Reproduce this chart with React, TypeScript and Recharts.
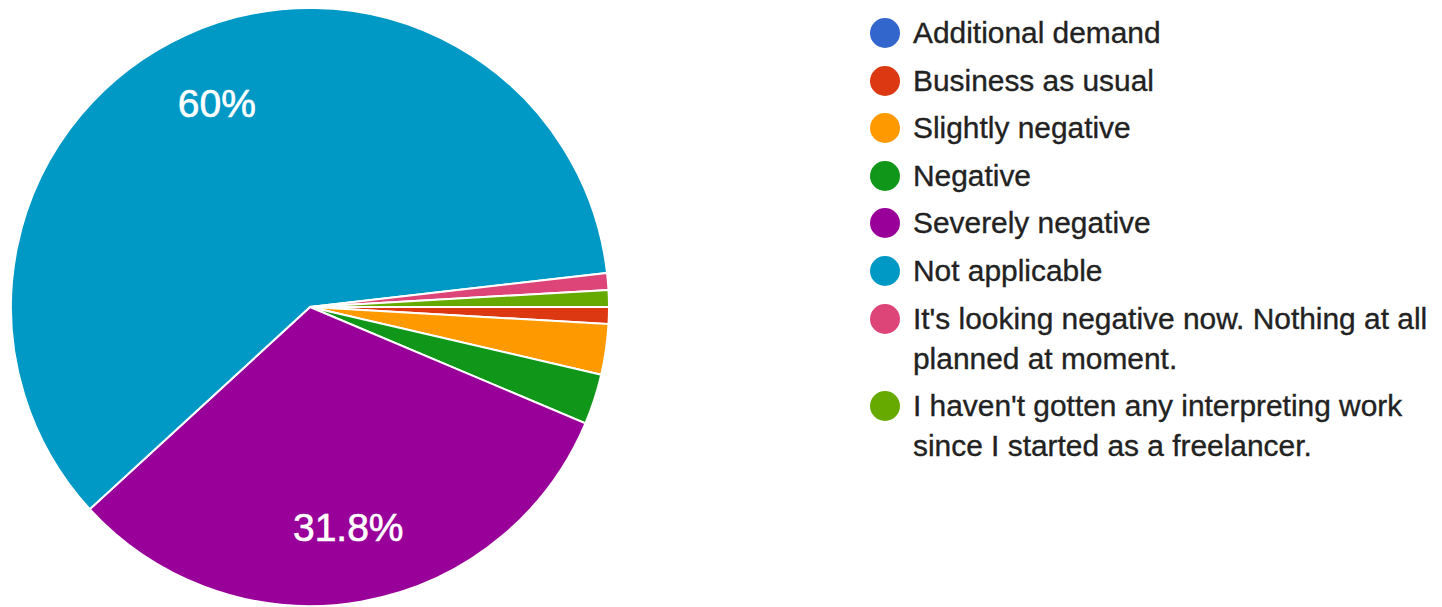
import { PieChart, Pie, Cell, Legend } from 'recharts';

// survey answers, in legend order
const categories = [
  'Additional demand',
  'Business as usual',
  'Slightly negative',
  'Negative',
  'Severely negative',
  'Not applicable',
  "It's looking negative now. Nothing at all planned at moment.",
  "I haven't gotten any interpreting work since I started as a freelancer.",
];
const responses = [0, 1, 3, 3, 35, 66, 1, 1];
const colors = ['#3366cc', '#dc3912', '#ff9900', '#109618', '#990099', '#0099c6', '#dd4477', '#66aa00'];

const chartData = categories.map((name, i) => ({ name, value: responses[i] }));

const FONT = '"Liberation Sans", Arial, sans-serif';
const RADIAN = Math.PI / 180;

// percent labels only on the big slices, like Google Forms
const renderLabel = ({ cx, cy, midAngle, outerRadius, percent }: any) => {
  if (percent < 0.05) return null;
  const r = outerRadius * 0.75;
  const x = cx + r * Math.cos(-midAngle * RADIAN);
  const y = cy + r * Math.sin(-midAngle * RADIAN);
  const txt = `${parseFloat((percent * 100).toFixed(1))}%`;
  return (
    <text
      x={x}
      y={y}
      fill="#fff"
      stroke="#fff"
      strokeWidth={0.6}
      textAnchor="middle"
      dominantBaseline="central"
      fontSize={39}
      fontFamily={FONT}
    >
      {txt}
    </text>
  );
};

const LegendList = () => (
  <div style={{ fontFamily: FONT, fontSize: 29.9, color: '#222', WebkitTextStroke: '0.35px #222' }}>
    {categories.map((name, i) => (
      <div key={name} style={{ display: 'flex', alignItems: 'flex-start', marginBottom: 7.6 }}>
        <span
          style={{
            width: 30,
            height: 30,
            borderRadius: '50%',
            background: colors[i],
            marginTop: 5,
            flex: '0 0 auto',
          }}
        />
        <span style={{ marginLeft: 13, lineHeight: '40px', width: 540, flex: '0 0 auto' }}>{name}</span>
      </div>
    ))}
  </div>
);

export default function App() {
  return (
    <PieChart width={1426} height={599} margin={{ top: 0, right: 0, bottom: 0, left: 0 }}>
      <Pie
        data={chartData}
        dataKey="value"
        nameKey="name"
        cx={302}
        cy={299}
        outerRadius={299}
        startAngle={0}
        endAngle={-360}
        stroke="#fff"
        strokeWidth={2}
        label={renderLabel}
        labelLine={false}
        isAnimationActive={false}
      >
        {chartData.map((entry, index) => (
          <Cell key={`cell-${index}`} fill={colors[index]} />
        ))}
      </Pie>
      <Legend
        layout="vertical"
        align="right"
        verticalAlign="top"
        content={<LegendList />}
        wrapperStyle={{ left: 862, top: 5, width: 572, overflow: 'hidden' }}
      />
    </PieChart>
  );
}
